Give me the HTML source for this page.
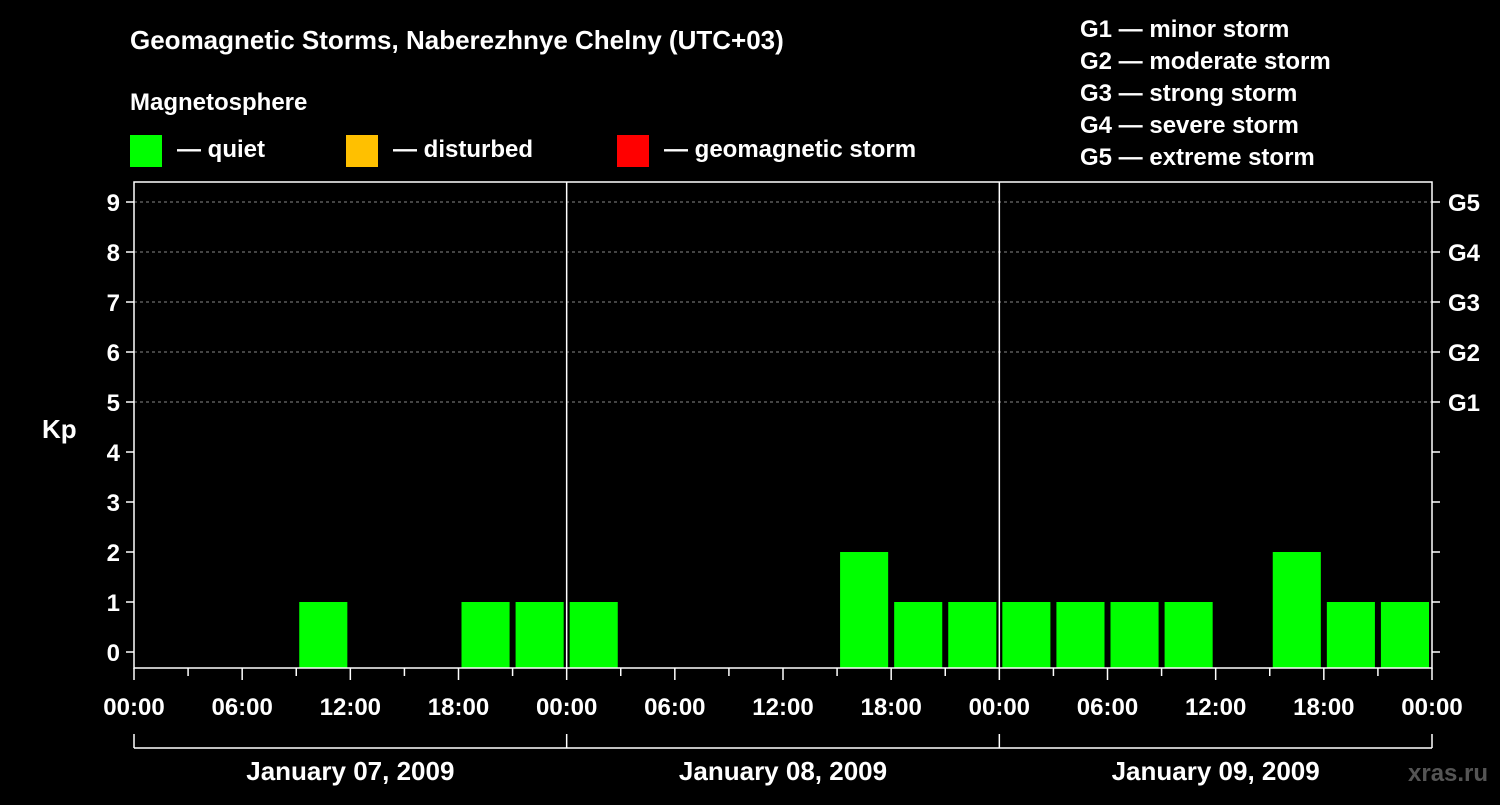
<!DOCTYPE html>
<html><head><meta charset="utf-8"><style>
body{margin:0;background:#000;width:1500px;height:800px;overflow:hidden}
svg text{font-family:"Liberation Sans",sans-serif;font-weight:bold;fill:#fff}
</style></head><body>
<svg id="c" width="1500" height="800" xmlns="http://www.w3.org/2000/svg">
<text x="130" y="49" font-size="26">Geomagnetic Storms, Naberezhnye Chelny (UTC+03)</text>
<text x="130" y="110" font-size="24">Magnetosphere</text>
<rect x="130" y="135" width="32" height="32" fill="#00ff00"/>
<text x="177" y="157" font-size="24">— quiet</text>
<rect x="346" y="135" width="32" height="32" fill="#ffc000"/>
<text x="393" y="157" font-size="24">— disturbed</text>
<rect x="617" y="135" width="32" height="32" fill="#ff0000"/>
<text x="664" y="157" font-size="24">— geomagnetic storm</text>
<g font-size="24">
<text x="1080" y="37">G1 — minor storm</text>
<text x="1080" y="69">G2 — moderate storm</text>
<text x="1080" y="101">G3 — strong storm</text>
<text x="1080" y="133">G4 — severe storm</text>
<text x="1080" y="165">G5 — extreme storm</text>
</g>
<text x="42" y="438" font-size="26">Kp</text>
<text x="1408" y="781" font-size="24" fill="#555" style="fill:#555">xras.ru</text>
<g id="plot"></g>
</svg>
<script>
const days = ["January 07, 2009","January 08, 2009","January 09, 2009"];
const kpDay1 = [0,0,0,1,0,0,1,1];
const kpDay2 = [1,0,0,0,0,2,1,1];
const kpDay3 = [1,1,1,1,0,2,1,1];
const yTicks = [0,1,2,3,4,5,6,7,8,9];
const gLabels = {5:"G1",6:"G2",7:"G3",8:"G4",9:"G5"};
const hourLabels = ["00:00","06:00","12:00","18:00"];
const kp = kpDay1.concat(kpDay2, kpDay3);
const L=134,R=1432,T=182,B=668;
const xs = h => L + (R-L)*h/72;
const ys = k => 652 - 50*k;
const NS="http://www.w3.org/2000/svg";
const g=document.getElementById('plot');
function mk(t,a,txt){const e=document.createElementNS(NS,t);for(const k in a)e.setAttribute(k,a[k]);if(txt!==undefined)e.textContent=txt;g.appendChild(e);return e;}
yTicks.forEach(k=>{
  if(k>=5){const l=mk('line',{x1:L,x2:R,y1:ys(k),y2:ys(k),stroke:'#888','stroke-dasharray':'3,3','stroke-width':1});
  
  }
  const t1=mk('line',{x1:L-8,x2:L,y1:ys(k),y2:ys(k),stroke:'#fff','stroke-width':1.5});
  
  
  const t2=mk('line',{x1:R,x2:R+8,y1:ys(k),y2:ys(k),stroke:'#fff','stroke-width':1.5});
  
  
  const lb=mk('text',{x:L-14,y:ys(k)+9,'font-size':24,'text-anchor':'end'},String(k));
  
  
  if(gLabels[k]){const gl=mk('text',{x:R+16,y:ys(k)+9,'font-size':24},gLabels[k]);
  
  }
});
kp.forEach((v,i)=>{
  if(v<=0)return;
  const x0=xs(i*3)+3,x1=xs(i*3+3)-3;
  const r=mk('rect',{x:x0,y:ys(v),width:x1-x0,height:B-ys(v),fill:v>=5?'#ff0000':(v>=4?'#ffc000':'#00ff00')});
  
  
});
const fr=mk('rect',{x:L,y:T,width:R-L,height:B-T,fill:'none',stroke:'#fff','stroke-width':1.5});


[1,2].forEach(d=>{const l=mk('line',{x1:xs(d*24),x2:xs(d*24),y1:T,y2:B,stroke:'#fff','stroke-width':1.5});

});
for(let h=0;h<=72;h+=3){
  const t=mk('line',{x1:xs(h),x2:xs(h),y1:B,y2:B+(h%6==0?12:8),stroke:'#fff','stroke-width':1.5});
  
  
  if(h%6==0){const lb=mk('text',{x:xs(h),y:715,'font-size':24,'text-anchor':'middle'},hourLabels[(h/6)%4]);
  
  }
}
const bl=mk('line',{x1:L,x2:R,y1:748,y2:748,stroke:'#fff','stroke-width':1.5});


for(let d=0;d<=3;d++){const t=mk('line',{x1:xs(d*24),x2:xs(d*24),y1:734,y2:748,stroke:'#fff','stroke-width':1.5});

}
days.forEach((d,i)=>{const t=mk('text',{x:xs(i*24+12),y:780,'font-size':26,'text-anchor':'middle'},d);

});
</script>
</body></html>
